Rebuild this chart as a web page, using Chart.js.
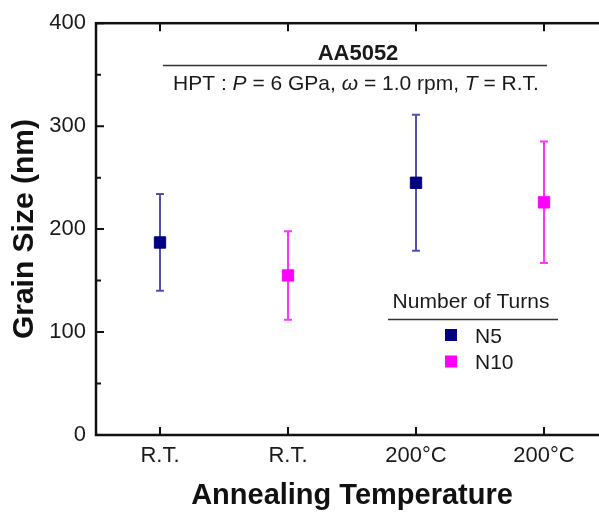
<!DOCTYPE html>
<html>
<head>
<meta charset="utf-8">
<script src="https://cdn.jsdelivr.net/npm/chart.js@4.4.1/dist/chart.umd.min.js"></script>
<style>
  html, body { margin: 0; padding: 0; background: #fff; overflow: hidden; }
  #wrap { width: 620px; height: 513px; }
</style>
</head>
<body>
<div id="wrap"><canvas id="grainChart" width="620" height="513"></canvas></div>
<script>
// values
const categories = ["R.T.", "R.T.", "200°C", "200°C"];
const n5Values = [187, null, 245, null];
const n5Errors = [47, null, 66, null];
const n10Values = [null, 155, null, 226];
const n10Errors = [null, 43, null, 59];
const seriesLabels = ["N5", "N10"];

const FONT = "'Liberation Sans', Arial, Helvetica, sans-serif";
const INK = "#1a1a1a";

// error bars under the markers
const errorBars = {
  id: "errorBars",
  beforeDatasetsDraw(chart) {
    const { ctx, scales: { x, y } } = chart;
    chart.data.datasets.forEach((ds) => {
      ctx.save();
      ctx.strokeStyle = ds.errorColor;
      ctx.lineWidth = 2;
      ds.data.forEach((v, i) => {
        if (v == null) return;
        const px = x.getPixelForValue(i);
        const top = y.getPixelForValue(v + ds.errors[i]);
        const bot = y.getPixelForValue(v - ds.errors[i]);
        ctx.beginPath();
        ctx.moveTo(px, top); ctx.lineTo(px, bot);
        ctx.moveTo(px - 4, top); ctx.lineTo(px + 4, top);
        ctx.moveTo(px - 4, bot); ctx.lineTo(px + 4, bot);
        ctx.stroke();
      });
      ctx.restore();
    });
  }
};

// box frame with inward ticks, like the origin-style plot
const frame = {
  id: "frame",
  afterDraw(chart) {
    const { ctx, chartArea: a, scales: { x, y } } = chart;
    ctx.save();
    ctx.strokeStyle = "#111";
    ctx.lineWidth = 2.5;
    ctx.strokeRect(a.left, a.top, a.right - a.left, a.bottom - a.top);
    ctx.lineWidth = 2;
    ctx.beginPath();
    x.ticks.forEach((t, i) => {
      const px = x.getPixelForTick(i);
      ctx.moveTo(px, a.bottom); ctx.lineTo(px, a.bottom - 8);
      ctx.moveTo(px, a.top); ctx.lineTo(px, a.top + 8);
    });
    y.ticks.forEach((t, i) => {
      const py = y.getPixelForValue(t.value);
      ctx.moveTo(a.left, py); ctx.lineTo(a.left + 8, py);
      ctx.moveTo(a.right, py); ctx.lineTo(a.right - 8, py);
      const next = y.ticks[i + 1];
      if (next) {
        const pm = y.getPixelForValue((t.value + next.value) / 2);
        ctx.moveTo(a.left, pm); ctx.lineTo(a.left + 5, pm);
        ctx.moveTo(a.right, pm); ctx.lineTo(a.right - 5, pm);
      }
    });
    ctx.stroke();
    ctx.restore();
  }
};

// header text and the legend block inside the plot
const notes = {
  id: "notes",
  afterDraw(chart) {
    const { ctx } = chart;
    ctx.save();
    ctx.fillStyle = INK;
    ctx.strokeStyle = "#333";
    ctx.lineWidth = 1.5;

    ctx.textAlign = "center";
    ctx.textBaseline = "alphabetic";
    ctx.font = "bold 22px " + FONT;
    ctx.fillText("AA5052", 358, 60);
    ctx.beginPath(); ctx.moveTo(163, 65.5); ctx.lineTo(547, 65.5); ctx.stroke();

    const parts = [
      ["HPT : ", false], ["P", true], [" = 6 GPa, ", false], ["ω", true],
      [" = 1.0 rpm, ", false], ["T", true], [" = R.T.", false]
    ];
    const fontFor = (it) => (it ? "italic " : "") + "21px " + FONT;
    let total = 0;
    parts.forEach(([s, it]) => { ctx.font = fontFor(it); total += ctx.measureText(s).width; });
    let cx = 356 - total / 2;
    ctx.textAlign = "left";
    parts.forEach(([s, it]) => {
      ctx.font = fontFor(it);
      ctx.fillText(s, cx, 90);
      cx += ctx.measureText(s).width;
    });

    ctx.textAlign = "center";
    ctx.font = "21px " + FONT;
    ctx.fillText("Number of Turns", 471, 308);
    ctx.beginPath(); ctx.moveTo(388, 319.5); ctx.lineTo(558, 319.5); ctx.stroke();

    ctx.textAlign = "left";
    chart.data.datasets.forEach((ds, i) => {
      const ly = 335 + i * 26.5;
      ctx.fillStyle = ds.backgroundColor;
      ctx.fillRect(445, ly - 6, 12, 12);
      ctx.fillStyle = INK;
      ctx.fillText(ds.label, 475, ly + 7.5);
    });
    ctx.restore();
  }
};

new Chart(document.getElementById("grainChart").getContext("2d"), {
  type: "line",
  data: {
    labels: categories,
    datasets: [
      {
        label: seriesLabels[0],
        data: n5Values,
        errors: n5Errors,
        errorColor: "rgba(50, 50, 160, 0.85)",
        showLine: false,
        pointStyle: "rect",
        pointRadius: 8,
        pointBorderWidth: 1,
        backgroundColor: "#000080",
        borderColor: "#000080"
      },
      {
        label: seriesLabels[1],
        data: n10Values,
        errors: n10Errors,
        errorColor: "rgba(255, 30, 255, 0.9)",
        showLine: false,
        pointStyle: "rect",
        pointRadius: 8,
        pointBorderWidth: 1,
        backgroundColor: "#ff00ff",
        borderColor: "#ff00ff"
      }
    ]
  },
  options: {
    responsive: false,
    animation: false,
    devicePixelRatio: 1,
    layout: { padding: { left: 0, right: 12, top: 23, bottom: 0 } },
    plugins: { legend: { display: false }, tooltip: { enabled: false } },
    scales: {
      x: {
        type: "category",
        offset: true,
        grid: { display: false, drawTicks: false },
        border: { display: false },
        ticks: { color: INK, padding: 8, font: { family: FONT, size: 22 }, maxRotation: 0 },
        title: {
          display: true,
          text: "Annealing Temperature",
          color: "#111",
          font: { family: FONT, size: 29, weight: "bold" },
          padding: { top: 0, bottom: 0 }
        },
        afterFit: (scale) => { scale.height = 78; }
      },
      y: {
        min: 0,
        max: 400,
        grid: { display: false, drawTicks: false },
        border: { display: false },
        ticks: { stepSize: 100, color: INK, padding: 10, font: { family: FONT, size: 22 } },
        title: {
          display: true,
          text: "Grain Size (nm)",
          color: "#111",
          font: { family: FONT, size: 30, weight: "bold" },
          padding: { top: 7, bottom: 0 }
        },
        afterFit: (scale) => { scale.width = 96; }
      }
    }
  },
  plugins: [errorBars, frame, notes]
});
</script>
</body>
</html>
